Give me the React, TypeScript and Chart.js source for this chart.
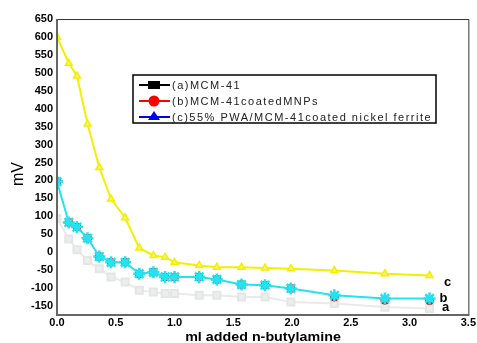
import { useEffect, useRef } from "react";
import { Chart, registerables } from "chart.js";
Chart.register(...registerables);

const xValues = [0, 0.1, 0.17, 0.26, 0.36, 0.46, 0.58, 0.7, 0.82, 0.92, 1.0, 1.21, 1.36, 1.57, 1.77, 1.99, 2.36, 2.79, 3.17];
const seriesA = [94, 37, 7, -23, -46, -69, -83, -106, -111, -115, -115, -120, -120, -125, -125, -139, -143, -153, -157];
const seriesB = [197, 83, 70, 39, -12, -28, -28, -60, -56, -69, -69, -69, -76, -90, -92, -101, -125, -134, -135];
const seriesBOverlay = [197, 83, 70, 39, -12, -28, -28, -60, -56, -69, -69, -69, -76, -90, -92, -101, -120, -129, -129];
const seriesC = [600, 527, 491, 357, 236, 148, 96, 12, -9, -14, -28, -37, -42, -42, -44, -46, -51, -60, -65];
const yTicks = [-150, -100, -50, 0, 50, 100, 150, 200, 250, 300, 350, 400, 450, 500, 550, 600, 650];
const xTicks = [0, 0.5, 1.0, 1.5, 2.0, 2.5, 3.0, 3.5];
const legendLabels = ["(a)MCM-41", "(b)MCM-41coatedMNPs", "(c)55% PWA/MCM-41coated nickel ferrite"];
const curveLabels = ["a", "b", "c"];
const xTitle = "ml added n-butylamine";
const yTitle = "mV";

const toPts = (ys: number[]) => ys.map((y, i) => ({ x: xValues[i], y }));

export default function App() {
  const ref = useRef<HTMLCanvasElement>(null);
  useEffect(() => {
    document.body.style.margin = "0";
    const canvas = ref.current!;
    const deco = {
      id: "deco",
      afterDraw(chart: any) {
        const ctx = chart.ctx;
        const a = chart.chartArea;
        ctx.save();
        ctx.strokeStyle = "#333";
        ctx.lineWidth = 1;
        ctx.beginPath();
        ctx.moveTo(a.left, a.top + 0.5);
        ctx.lineTo(a.right + 0.5, a.top + 0.5);
        ctx.lineTo(a.right + 0.5, a.bottom);
        ctx.stroke();
        ctx.strokeStyle = "#666";
        ctx.lineWidth = 2;
        ctx.beginPath();
        ctx.moveTo(a.left, a.top);
        ctx.lineTo(a.left, a.bottom);
        ctx.lineTo(a.right + 1, a.bottom);
        ctx.stroke();
        ctx.fillStyle = "#000";
        ctx.font = "16px Arial, 'Liberation Sans'";
        ctx.textAlign = "center";
        ctx.textBaseline = "middle";
        ctx.save();
        ctx.translate(19, 174);
        ctx.rotate(-Math.PI / 2);
        ctx.fillText(yTitle, 0, 0);
        ctx.restore();
        ctx.save();
        ctx.translate(263, 337);
        ctx.scale(1.1, 1);
        ctx.font = "bold 13px Arial, 'Liberation Sans'";
        ctx.fillText(xTitle, 0, 0);
        ctx.restore();
        const metas = [chart.getDatasetMeta(0), chart.getDatasetMeta(2), chart.getDatasetMeta(3)];
        const dys = [-1, 0, 7];
        const dxs = [16, 14, 18];
        ctx.font = "bold 13px Arial, 'Liberation Sans'";
        ctx.textAlign = "center";
        metas.forEach((m: any, i: number) => {
          const p = m.data[m.data.length - 1];
          ctx.fillText(curveLabels[i], p.x + dxs[i], p.y + dys[i]);
        });
        const bx = 133, by = 75, bw = 303, bh = 48;
        ctx.fillStyle = "#fff";
        ctx.fillRect(bx, by, bw, bh);
        ctx.strokeStyle = "#000";
        ctx.lineWidth = 1.5;
        ctx.strokeRect(bx, by, bw, bh);
        const colors = ["#000", "#f00", "#00f"];
        const rows = [85, 101, 117];
        ctx.font = "11px Arial, 'Liberation Sans'";
        (ctx as any).letterSpacing = "1.5px";
        ctx.textAlign = "left";
        legendLabels.forEach((t, i) => {
          const y = rows[i];
          ctx.strokeStyle = colors[i];
          ctx.fillStyle = colors[i];
          ctx.lineWidth = 2;
          ctx.beginPath();
          ctx.moveTo(139, y);
          ctx.lineTo(170, y);
          ctx.stroke();
          const cx = 154;
          if (i === 0) {
            ctx.fillRect(cx - 6, y - 4, 12, 8);
          } else if (i === 1) {
            ctx.beginPath();
            ctx.arc(cx, y, 5.5, 0, Math.PI * 2);
            ctx.fill();
          } else {
            ctx.beginPath();
            ctx.moveTo(cx, y - 6);
            ctx.lineTo(cx + 6, y + 3);
            ctx.lineTo(cx - 6, y + 3);
            ctx.closePath();
            ctx.fill();
          }
          ctx.fillStyle = "#222";
          ctx.fillText(t, 172, y + 1);
        });
        ctx.restore();
      },
    };
    const chart = new Chart(canvas, {
      type: "line",
      data: {
        datasets: [
          {
            data: toPts(seriesA),
            borderColor: "#e9ebeb",
            backgroundColor: "#eceeee",
            pointBackgroundColor: "#eceeee",
            pointBorderColor: "#e4e6e6",
            pointStyle: "rect",
            pointRadius: 5,
            borderWidth: 2,
            order: 4,
          },
          {
            data: toPts(seriesB),
            borderColor: "#ff0000",
            backgroundColor: "#ff0000",
            pointBackgroundColor: "#ff2020",
            pointBorderColor: "#ff0000",
            pointStyle: "circle",
            pointRadius: 4,
            showLine: false,
            order: 3,
          },
          {
            data: toPts(seriesBOverlay),
            borderColor: "#22e4f0",
            backgroundColor: "#22e4f0",
            pointBorderColor: "#22e4f0",
            pointBackgroundColor: "#22e4f0",
            pointStyle: "star",
            pointRadius: 6,
            pointBorderWidth: 2.5,
            borderWidth: 2,
            order: 2,
          },
          {
            data: toPts(seriesC),
            borderColor: "#f2f000",
            backgroundColor: "#f2f000",
            pointBorderColor: "#f2f000",
            pointBackgroundColor: "#f6f46a",
            pointStyle: "triangle",
            pointRadius: 4,
            pointBorderWidth: 1.5,
            borderWidth: 2,
            order: 1,
          },
        ],
      },
      options: {
        responsive: false,
        animation: false,
        layout: { padding: { left: 0, top: 19, right: 7, bottom: 0 } },
        plugins: { legend: { display: false }, tooltip: { enabled: false } },
        scales: {
          x: {
            type: "linear",
            min: 0,
            max: 3.5,
            afterFit: (s: any) => { s.height = 28; },
            afterBuildTicks: (s: any) => { s.ticks = xTicks.map((v) => ({ value: v })); },
            grid: { display: false, drawTicks: false },
            border: { display: false },
            ticks: {
              padding: 1,
              color: "#000",
              font: { family: "Arial, 'Liberation Sans'", size: 11, weight: "bold" },
              callback: (v: any) => Number(v).toFixed(1),
              maxRotation: 0,
            },
          },
          y: {
            type: "linear",
            min: -175,
            max: 650,
            afterFit: (s: any) => { s.width = 57; },
            afterBuildTicks: (s: any) => { s.ticks = yTicks.map((v) => ({ value: v })); },
            grid: { display: false, drawTicks: false },
            border: { display: false },
            ticks: {
              padding: 4,
              color: "#000",
              font: { family: "Arial, 'Liberation Sans'", size: 11, weight: "bold" },
            },
          },
        },
      },
      plugins: [deco],
    } as any);
    return () => chart.destroy();
  }, []);
  return <canvas ref={ref} width={477} height={343} style={{ display: "block" }} />;
}
